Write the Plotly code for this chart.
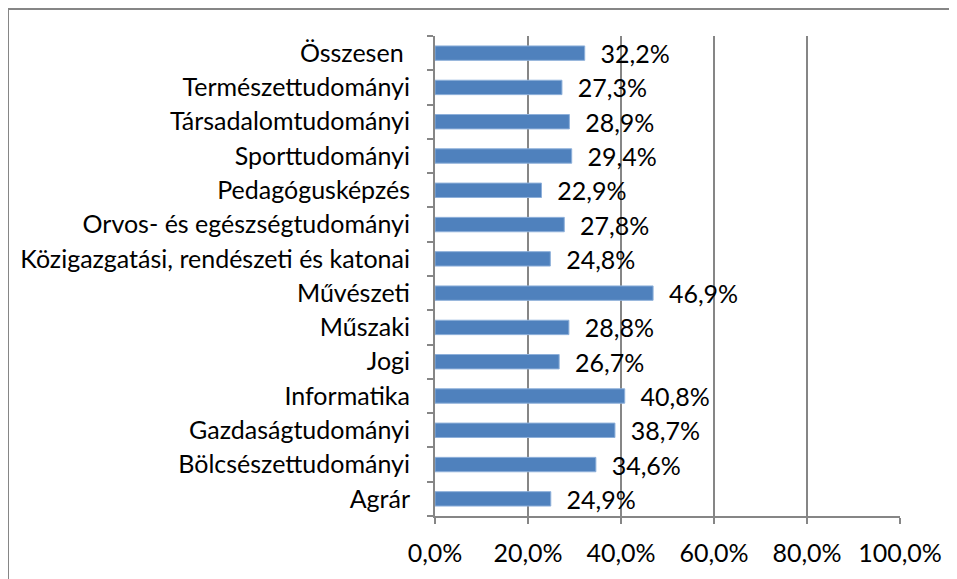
import plotly.graph_objects as go

categories = ["Agrár", "Bölcsészettudományi", "Gazdaságtudományi", "Informatika", "Jogi",
              "Műszaki", "Művészeti", "Közigazgatási, rendészeti és katonai",
              "Orvos- és egészségtudományi", "Pedagógusképzés", "Sporttudományi",
              "Társadalomtudományi", "Természettudományi", "Összesen "]
values = [24.9, 34.6, 38.7, 40.8, 26.7, 28.8, 46.9, 24.8, 27.8, 22.9, 29.4, 28.9, 27.3, 32.2]
x_ticks = [0, 20, 40, 60, 80, 100]
x_ticktext = [f"{v:.1f}%".replace(".", ",") for v in x_ticks]

FONT = "Lato"
FS = 25
GREY = "#868686"

# page body has 8px offset; figure is sized to the visible area
W, H = 949, 571
L, R, T, B = 427, 57, 28, 63
pw, ph = W - L - R, H - T - B

fig = go.Figure(go.Bar(
    y=categories, x=values, orientation="h",
    marker=dict(color="#4F81BD", line=dict(color="#8EB0DA", width=1)),
    width=0.42,
    text=values, texttemplate="  %{x:.1f}%", textposition="outside",
    constraintext="none",
    textfont=dict(family=FONT, size=FS, color="#000000"),
    cliponaxis=False,
))

fig.update_layout(
    width=W, height=H,
    margin=dict(l=L, r=R, t=T, b=B),
    paper_bgcolor="white", plot_bgcolor="white",
    separators=",.",
    showlegend=False,
    font=dict(family=FONT, size=FS, color="#000000"),
    xaxis=dict(range=[0, 100], tickvals=x_ticks, ticktext=x_ticktext,
               showgrid=True, gridcolor=GREY, gridwidth=2,
               showline=True, linecolor=GREY, linewidth=2,
               ticks="outside", ticklen=6, tickcolor=GREY, tickwidth=2,
               zeroline=False, ticklabelstandoff=8,
               tickfont=dict(family=FONT, size=FS)),
    yaxis=dict(type="category", showline=True, linecolor=GREY, linewidth=2,
               ticks="outside", ticklen=6, tickcolor=GREY, tickwidth=2,
               tickson="boundaries", showgrid=False, ticklabelstandoff=18,
               range=[-0.5, len(categories) - 0.5],
               tickfont=dict(family=FONT, size=FS)),
    shapes=[dict(type="rect", xref="paper", yref="paper",
                 x0=(0 - L) / pw, x1=(W + 20 - L) / pw,
                 y0=-(H + 20 - ph - T) / ph, y1=(ph + T - 1) / ph,
                 line=dict(color=GREY, width=2), layer="below")],
)

fig.write_html("out.html")
